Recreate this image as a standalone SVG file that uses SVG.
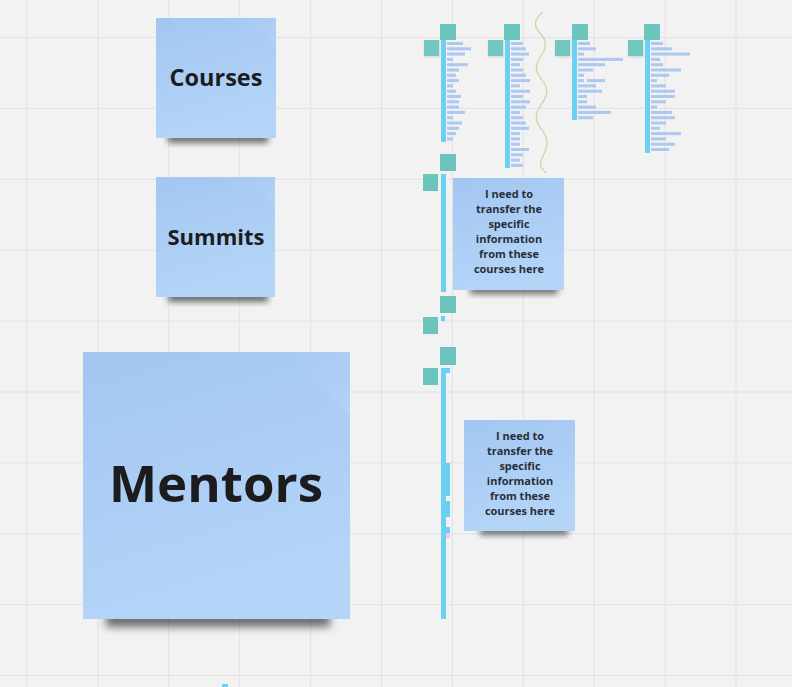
<svg xmlns="http://www.w3.org/2000/svg" width="792" height="687" viewBox="0 0 792 687">
  <defs>
    <linearGradient id="stickyFill" x1="0" y1="0" x2="0.3" y2="1">
      <stop offset="0" stop-color="#a3c6f1"/>
      <stop offset="1" stop-color="#b4d5f8"/>
    </linearGradient>
    <linearGradient id="foldFill" x1="0" y1="0" x2="1" y2="1">
      <stop offset="0" stop-color="#b6d5f7" stop-opacity="0"/>
      <stop offset="1" stop-color="#bad8f9" stop-opacity="0.45"/>
    </linearGradient>
    <filter id="soft" x="-20%" y="-50%" width="140%" height="200%">
      <feGaussianBlur stdDeviation="3"/>
    </filter>
    <filter id="softBig" x="-20%" y="-50%" width="140%" height="200%">
      <feGaussianBlur stdDeviation="4.5"/>
    </filter>
    <filter id="tiny" x="-50%" y="-50%" width="200%" height="200%">
      <feGaussianBlur stdDeviation="1"/>
    </filter>
  </defs>
  <style>
    .grid line { stroke: #e2e2e2; stroke-width: 1; }
    .sticky { fill: url(#stickyFill); }
    .fold { fill: url(#foldFill); }
    .shadow { fill: #000; opacity: 0.55; }
    .big { font-family: "Open Sans", "Noto Sans", sans-serif; font-weight: 700; fill: #1c1c1e; text-anchor: middle; }
    .note { font-family: "Open Sans", "Noto Sans", sans-serif; font-weight: 700; font-size: 11px; fill: #2a2e38; text-anchor: middle; }
    .teal { fill: #6bc5bc; }
    .tealNote { fill: #72c7be; }
    .spine { fill: #6bd0f2; }
    .row { fill: #abc9f1; }
  </style>

  <!-- board background and grid -->
  <rect width="792" height="687" fill="#f2f2f2"/>
  <g class="grid">
    <line x1="27" y1="0" x2="27" y2="687"/>
    <line x1="97.9" y1="0" x2="97.9" y2="687"/>
    <line x1="168.8" y1="0" x2="168.8" y2="687"/>
    <line x1="239.7" y1="0" x2="239.7" y2="687"/>
    <line x1="310.6" y1="0" x2="310.6" y2="687"/>
    <line x1="381.5" y1="0" x2="381.5" y2="687"/>
    <line x1="452.4" y1="0" x2="452.4" y2="687"/>
    <line x1="523.3" y1="0" x2="523.3" y2="687"/>
    <line x1="594.2" y1="0" x2="594.2" y2="687"/>
    <line x1="665.1" y1="0" x2="665.1" y2="687"/>
    <line x1="736" y1="0" x2="736" y2="687"/>
    <line x1="0" y1="37.5" x2="792" y2="37.5"/>
    <line x1="0" y1="108.4" x2="792" y2="108.4"/>
    <line x1="0" y1="179.3" x2="792" y2="179.3"/>
    <line x1="0" y1="250.2" x2="792" y2="250.2"/>
    <line x1="0" y1="321.1" x2="792" y2="321.1"/>
    <line x1="0" y1="392" x2="792" y2="392"/>
    <line x1="0" y1="462.9" x2="792" y2="462.9"/>
    <line x1="0" y1="533.8" x2="792" y2="533.8"/>
    <line x1="0" y1="604.7" x2="792" y2="604.7"/>
    <line x1="0" y1="675.6" x2="792" y2="675.6"/>
  </g>

  <!-- sticky note: Courses -->
  <g id="courses">
    <rect class="shadow" x="168" y="133" width="100" height="10" filter="url(#soft)"/>
    <rect class="sticky" x="156" y="18" width="120" height="120"/>
    <path class="fold" d="M246,18 L276,18 L276,48 Z"/>
    <text class="big" x="216" y="86" font-size="23.5">Courses</text>
  </g>

  <!-- sticky note: Summits -->
  <g id="summits">
    <rect class="shadow" x="168" y="292" width="100" height="10" filter="url(#soft)"/>
    <rect class="sticky" x="156" y="177" width="119" height="120"/>
    <path class="fold" d="M245,177 L275,177 L275,207 Z"/>
    <text class="big" x="216" y="245" font-size="22">Summits</text>
  </g>

  <!-- sticky note: Mentors -->
  <g id="mentors">
    <rect class="shadow" x="106" y="611" width="224" height="16" filter="url(#softBig)"/>
    <rect class="sticky" x="83" y="352" width="267" height="267"/>
    <path class="fold" d="M285,352 L350,352 L350,417 Z"/>
    <text class="big" x="216" y="502" font-size="51">Mentors</text>
  </g>

  <!-- sticky note beside the summits column -->
  <g id="note-summits">
    <rect class="shadow" x="470" y="285" width="88" height="9" filter="url(#soft)"/>
    <rect class="sticky" x="453" y="178" width="111" height="112"/>
    <text class="note" x="509" y="198">I need to</text>
    <text class="note" x="509" y="213">transfer the</text>
    <text class="note" x="509" y="228">specific</text>
    <text class="note" x="509" y="243">information</text>
    <text class="note" x="509" y="258">from these</text>
    <text class="note" x="509" y="273">courses here</text>
  </g>

  <!-- sticky note beside the mentors column -->
  <g id="note-mentors">
    <rect class="shadow" x="480" y="526" width="88" height="9" filter="url(#soft)"/>
    <rect class="sticky" x="464" y="420" width="111" height="111"/>
    <text class="note" x="520" y="440">I need to</text>
    <text class="note" x="520" y="455">transfer the</text>
    <text class="note" x="520" y="470">specific</text>
    <text class="note" x="520" y="485">information</text>
    <text class="note" x="520" y="500">from these</text>
    <text class="note" x="520" y="515">courses here</text>
  </g>

  <!-- course column 1 -->
  <g id="course-col-1">
    <rect class="teal" x="440" y="24" width="16" height="16"/>
    <rect x="424.5" y="41" width="15" height="16" fill="#000" opacity="0.15" filter="url(#tiny)"/>
    <rect class="tealNote" x="424" y="40" width="15" height="16"/>
    <rect class="spine" x="441" y="40" width="5" height="102"/>
    <g class="row">
      <rect x="447" y="42" width="16" height="3"/>
      <rect x="447" y="47.3" width="24" height="3"/>
      <rect x="447" y="52.6" width="18" height="3"/>
      <rect x="447" y="57.9" width="6" height="3"/>
      <rect x="447" y="63.2" width="21" height="3"/>
      <rect x="447" y="68.5" width="12" height="3"/>
      <rect x="447" y="73.8" width="9" height="3"/>
      <rect x="447" y="79.1" width="12" height="3"/>
      <rect x="447" y="84.4" width="6" height="3"/>
      <rect x="447" y="89.7" width="9" height="3"/>
      <rect x="447" y="95" width="14" height="3"/>
      <rect x="447" y="100.3" width="12" height="3"/>
      <rect x="447" y="105.6" width="12" height="3"/>
      <rect x="447" y="110.9" width="18" height="3"/>
      <rect x="447" y="116.2" width="6" height="3"/>
      <rect x="447" y="121.5" width="15" height="3"/>
      <rect x="447" y="126.8" width="12" height="3"/>
      <rect x="447" y="132.1" width="9" height="3"/>
      <rect x="447" y="137.4" width="6" height="3"/>
    </g>
  </g>

  <!-- course column 2 -->
  <g id="course-col-2">
    <rect class="teal" x="504" y="24" width="16" height="16"/>
    <rect x="488.5" y="41" width="15" height="16" fill="#000" opacity="0.15" filter="url(#tiny)"/>
    <rect class="tealNote" x="488" y="40" width="15" height="16"/>
    <rect class="spine" x="505" y="40" width="5" height="128"/>
    <g class="row">
      <rect x="511" y="42" width="12" height="3"/>
      <rect x="511" y="47.3" width="15" height="3"/>
      <rect x="511" y="52.6" width="18" height="3"/>
      <rect x="511" y="57.9" width="12" height="3"/>
      <rect x="511" y="63.2" width="9" height="3"/>
      <rect x="511" y="68.5" width="12" height="3"/>
      <rect x="511" y="73.8" width="15" height="3"/>
      <rect x="511" y="79.1" width="19" height="3"/>
      <rect x="511" y="84.4" width="9" height="3"/>
      <rect x="511" y="89.7" width="19" height="3"/>
      <rect x="511" y="95" width="12" height="3"/>
      <rect x="511" y="100.3" width="19" height="3"/>
      <rect x="511" y="105.6" width="15" height="3"/>
      <rect x="511" y="110.9" width="9" height="3"/>
      <rect x="511" y="116.2" width="12" height="3"/>
      <rect x="511" y="121.5" width="15" height="3"/>
      <rect x="511" y="126.8" width="18" height="3"/>
      <rect x="511" y="132.1" width="9" height="3"/>
      <rect x="511" y="137.4" width="9" height="3"/>
      <rect x="511" y="142.7" width="9" height="3"/>
      <rect x="511" y="148" width="18" height="3"/>
      <rect x="511" y="153.3" width="12" height="3"/>
      <rect x="511" y="158.6" width="9" height="3"/>
      <rect x="511" y="163.9" width="12" height="3"/>
    </g>
  </g>

  <!-- hand-drawn wavy divider -->
  <path id="divider" d="M543,12 C533,20 534,27 540,33 S548,46 541,56 S535,71 542,80 S548,95 541,105 S535,121 542,130 S548,146 543,156 S541,168 546,173" fill="none" stroke="#c3d89e" stroke-width="1.2"/>

  <!-- course column 3 -->
  <g id="course-col-3">
    <rect class="teal" x="572" y="24" width="16" height="16"/>
    <rect x="555.5" y="41" width="15" height="16" fill="#000" opacity="0.15" filter="url(#tiny)"/>
    <rect class="tealNote" x="555" y="40" width="15" height="16"/>
    <rect class="spine" x="572" y="40" width="5" height="80"/>
    <g class="row">
      <rect x="578" y="42" width="12" height="3"/>
      <rect x="578" y="47.3" width="18" height="3"/>
      <rect x="578" y="52.6" width="6" height="3"/>
      <rect x="578" y="57.9" width="45" height="3"/>
      <rect x="578" y="63.2" width="27" height="3"/>
      <rect x="578" y="68.5" width="15" height="3"/>
      <rect x="578" y="73.8" width="6" height="3"/>
      <rect x="578" y="79.1" width="6" height="3"/>
      <rect x="587" y="79.1" width="18" height="3"/>
      <rect x="578" y="84.4" width="18" height="3"/>
      <rect x="578" y="89.7" width="24" height="3"/>
      <rect x="578" y="95" width="9" height="3"/>
      <rect x="578" y="100.3" width="9" height="3"/>
      <rect x="578" y="105.6" width="18" height="3"/>
      <rect x="578" y="110.9" width="33" height="3"/>
      <rect x="578" y="116.2" width="15" height="3"/>
    </g>
  </g>

  <!-- course column 4 -->
  <g id="course-col-4">
    <rect class="teal" x="644" y="24" width="16" height="16"/>
    <rect x="628.5" y="41" width="15" height="16" fill="#000" opacity="0.15" filter="url(#tiny)"/>
    <rect class="tealNote" x="628" y="40" width="15" height="16"/>
    <rect class="spine" x="645" y="40" width="5" height="113"/>
    <g class="row">
      <rect x="651" y="42" width="12" height="3"/>
      <rect x="651" y="47.3" width="21" height="3"/>
      <rect x="651" y="52.6" width="39" height="3"/>
      <rect x="651" y="57.9" width="9" height="3"/>
      <rect x="651" y="63.2" width="12" height="3"/>
      <rect x="651" y="68.5" width="30" height="3"/>
      <rect x="651" y="73.8" width="18" height="3"/>
      <rect x="651" y="79.1" width="6" height="3"/>
      <rect x="651" y="84.4" width="15" height="3"/>
      <rect x="651" y="89.7" width="24" height="3"/>
      <rect x="651" y="95" width="24" height="3"/>
      <rect x="651" y="100.3" width="15" height="3"/>
      <rect x="651" y="105.6" width="6" height="3"/>
      <rect x="651" y="110.9" width="21" height="3"/>
      <rect x="651" y="116.2" width="24" height="3"/>
      <rect x="651" y="121.5" width="15" height="3"/>
      <rect x="651" y="126.8" width="9" height="3"/>
      <rect x="651" y="132.1" width="30" height="3"/>
      <rect x="651" y="137.4" width="15" height="3"/>
      <rect x="651" y="142.7" width="24" height="3"/>
      <rect x="651" y="148" width="18" height="3"/>
    </g>
  </g>

  <!-- summits column -->
  <g id="summits-col">
    <rect class="teal" x="440" y="154" width="16" height="17"/>
    <rect class="teal" x="423" y="174" width="15" height="17"/>
    <rect class="spine" x="441" y="174" width="5" height="118"/>
    <rect class="teal" x="440" y="296" width="16" height="17"/>
    <rect class="spine" x="441" y="316" width="4" height="5"/>
    <rect class="teal" x="423" y="317" width="15" height="17"/>
  </g>

  <!-- mentors column -->
  <g id="mentors-col">
    <rect class="teal" x="440" y="347" width="16" height="18"/>
    <rect class="teal" x="423" y="368" width="15" height="17"/>
    <rect class="spine" x="441" y="368" width="5" height="251"/>
    <rect class="spine" x="445" y="368" width="5" height="5"/>
    <rect class="spine" x="445" y="463" width="5" height="33"/>
    <rect class="spine" x="445" y="501" width="5" height="16"/>
    <rect class="spine" x="445" y="527" width="5" height="6"/>
    <rect x="446" y="533" width="4" height="5" fill="#f5c6dc"/>
  </g>

  <!-- partial item at the lower edge -->
  <rect x="222" y="684" width="6" height="3" fill="#6bd0f2"/>
</svg>
